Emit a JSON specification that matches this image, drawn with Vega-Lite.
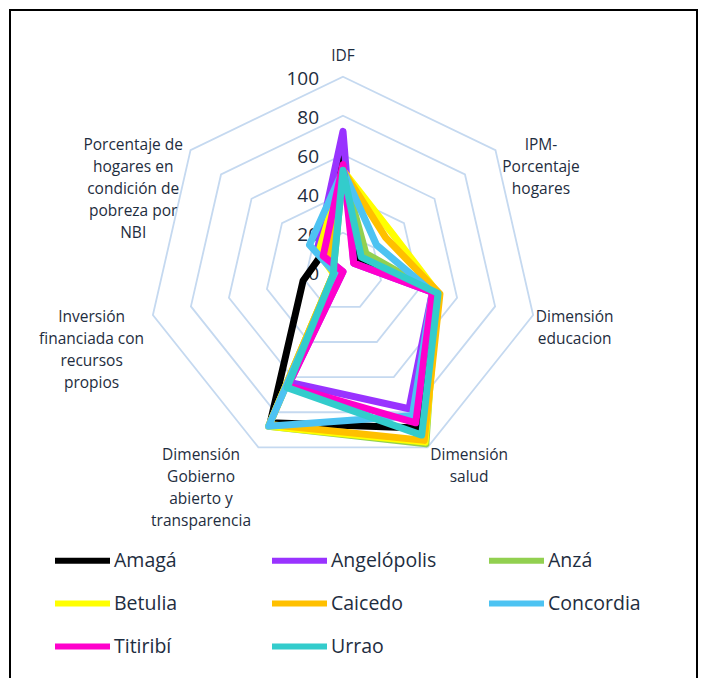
{
  "$schema": "https://vega.github.io/schema/vega-lite/v6.json",
  "width": 687,
  "height": 680,
  "padding": {"left": 10, "top": 10, "right": 11, "bottom": 0},
  "autosize": {"type": "none"},
  "background": "white",
  "config": {"view": {"stroke": "#000000", "strokeWidth": 2}, "font": "Open Sans"},
  "datasets": {
    "dims": [
      {"d": "IDF", "i": 0, "lab": ["IDF"]},
      {"d": "IPM", "i": 1, "lab": ["IPM-", "Porcentaje", "hogares"]},
      {"d": "Educacion", "i": 2, "lab": ["Dimensión", "educacion"]},
      {"d": "Salud", "i": 3, "lab": ["Dimensión", "salud"]},
      {"d": "Gobierno", "i": 4, "lab": ["Dimensión", "Gobierno", "abierto y", "transparencia"]},
      {"d": "Inversion", "i": 5, "lab": ["Inversión", "financiada con", "recursos", "propios"]},
      {"d": "NBI", "i": 6, "lab": ["Porcentaje de", "hogares en", "condición de", "pobreza por", "NBI"]}
    ],
    "rings": [
      {"r": 20, "IDF": 20, "IPM": 20, "Educacion": 20, "Salud": 20, "Gobierno": 20, "Inversion": 20, "NBI": 20},
      {"r": 40, "IDF": 40, "IPM": 40, "Educacion": 40, "Salud": 40, "Gobierno": 40, "Inversion": 40, "NBI": 40},
      {"r": 60, "IDF": 60, "IPM": 60, "Educacion": 60, "Salud": 60, "Gobierno": 60, "Inversion": 60, "NBI": 60},
      {"r": 80, "IDF": 80, "IPM": 80, "Educacion": 80, "Salud": 80, "Gobierno": 80, "Inversion": 80, "NBI": 80},
      {"r": 100, "IDF": 100, "IPM": 100, "Educacion": 100, "Salud": 100, "Gobierno": 100, "Inversion": 100, "NBI": 100}
    ],
    "ticks": [{"t": 0}, {"t": 20}, {"t": 40}, {"t": 60}, {"t": 80}, {"t": 100}],
    "series": [
      {"m": "Amagá", "IDF": 60, "IPM": 9, "Educacion": 48, "Salud": 89, "Gobierno": 86, "Inversion": 21, "NBI": 14},
      {"m": "Angelópolis", "IDF": 72, "IPM": 7, "Educacion": 47, "Salud": 78, "Gobierno": 63, "Inversion": 0, "NBI": 17},
      {"m": "Anzá", "IDF": 52, "IPM": 15, "Educacion": 49, "Salud": 98, "Gobierno": 88, "Inversion": 5, "NBI": 6},
      {"m": "Betulia", "IDF": 52, "IPM": 32, "Educacion": 50, "Salud": 97, "Gobierno": 88, "Inversion": 5, "NBI": 16},
      {"m": "Caicedo", "IDF": 52, "IPM": 28, "Educacion": 51, "Salud": 96, "Gobierno": 87, "Inversion": 5, "NBI": 10},
      {"m": "Concordia", "IDF": 52, "IPM": 22, "Educacion": 47, "Salud": 82, "Gobierno": 88, "Inversion": 4, "NBI": 22},
      {"m": "Titiribí", "IDF": 55, "IPM": 7, "Educacion": 47, "Salud": 86, "Gobierno": 65, "Inversion": 0, "NBI": 13},
      {"m": "Urrao", "IDF": 52, "IPM": 12, "Educacion": 50, "Salud": 93, "Gobierno": 66, "Inversion": 5, "NBI": 6}
    ]
  },
  "encoding": {
    "x": {"field": "px", "type": "quantitative", "scale": {"domain": [-170.769, 181.538], "nice": false, "zero": false}, "axis": null},
    "y": {"field": "py", "type": "quantitative", "scale": {"domain": [-214.513, 134.205], "nice": false, "zero": false}, "axis": null}
  },
  "layer": [
    {
      "data": {"name": "rings"},
      "transform": [
        {"fold": ["IDF", "IPM", "Educacion", "Salud", "Gobierno", "Inversion", "NBI"], "as": ["d", "v"]},
        {"lookup": "d", "from": {"data": {"name": "dims"}, "key": "d", "fields": ["i"]}},
        {"calculate": "datum.i * 2 * PI / 7", "as": "a"},
        {"calculate": "datum.v * sin(datum.a)", "as": "px"},
        {"calculate": "datum.v * cos(datum.a)", "as": "py"}
      ],
      "mark": {"type": "line", "interpolate": "linear-closed", "stroke": "#c5d9f0", "strokeWidth": 1.8},
      "encoding": {"detail": {"field": "r"}, "order": {"field": "i", "type": "quantitative"}}
    },
    {
      "data": {"name": "ticks"},
      "transform": [
        {"calculate": "0", "as": "px"},
        {"calculate": "datum.t", "as": "py"}
      ],
      "mark": {"type": "text", "align": "right", "baseline": "middle", "dx": -24, "dy": 2, "fontSize": 19, "color": "#1e2d40"},
      "encoding": {"text": {"field": "t", "type": "quantitative"}}
    },
    {
      "data": {"name": "dims"},
      "transform": [
        {"calculate": "datum.i * 2 * PI / 7", "as": "a"},
        {"calculate": "length(datum.lab)", "as": "n"},
        {"calculate": "max(length(datum.lab[0]), datum.n > 1 ? length(datum.lab[1]) : 0, datum.n > 2 ? length(datum.lab[2]) : 0, datum.n > 3 ? length(datum.lab[3]) : 0, datum.n > 4 ? length(datum.lab[4]) : 0)", "as": "L"},
        {"calculate": "datum.L * 7.9 / 2", "as": "hw"},
        {"calculate": "datum.n * 22 / 2", "as": "hh"},
        {"calculate": "100 * sin(datum.a) + (abs(sin(datum.a)) < 0.1 ? 0 : (sin(datum.a) > 0 ? 1 : -1) * (datum.hw + 6) / 1.95)", "as": "px"},
        {"calculate": "100 * cos(datum.a) + (abs(sin(datum.a)) < 0.1 ? (datum.hh + 10) / 1.95 : 8 * cos(datum.a) / 1.95)", "as": "py"}
      ],
      "mark": {"type": "text", "align": "center", "baseline": "middle", "fontSize": 15.5, "lineHeight": 22, "color": "#1e2d40"},
      "encoding": {"text": {"field": "lab"}}
    },
    {
      "data": {"name": "series"},
      "transform": [
        {"fold": ["IDF", "IPM", "Educacion", "Salud", "Gobierno", "Inversion", "NBI"], "as": ["d", "v"]},
        {"lookup": "d", "from": {"data": {"name": "dims"}, "key": "d", "fields": ["i"]}},
        {"calculate": "datum.i * 2 * PI / 7", "as": "a"},
        {"calculate": "datum.v * sin(datum.a)", "as": "px"},
        {"calculate": "datum.v * cos(datum.a)", "as": "py"}
      ],
      "mark": {"type": "line", "interpolate": "linear-closed", "strokeWidth": 7, "strokeJoin": "round", "strokeCap": "round"},
      "encoding": {
        "order": {"field": "i", "type": "quantitative"},
        "color": {
          "field": "m",
          "type": "nominal",
          "scale": {
            "domain": ["Amagá", "Angelópolis", "Anzá", "Betulia", "Caicedo", "Concordia", "Titiribí", "Urrao"],
            "range": ["#000000", "#9933ff", "#92d050", "#ffff00", "#ffc000", "#4dc3f2", "#ff00cc", "#33cccc"]
          },
          "legend": {
            "title": null,
            "orient": "none",
            "direction": "horizontal",
            "legendX": 42,
            "legendY": 520,
            "columns": 3,
            "gridAlign": "all",
            "columnPadding": 40,
            "rowPadding": -11.5,
            "padding": 0,
            "symbolType": "stroke",
            "symbolSize": 3025,
            "symbolStrokeWidth": 6,
            "labelFont": "Open Sans",
            "labelFontSize": 19.5,
            "labelColor": "#1e2d40",
            "labelOffset": 1,
            "labelLimit": 200
          }
        }
      }
    }
  ]
}
